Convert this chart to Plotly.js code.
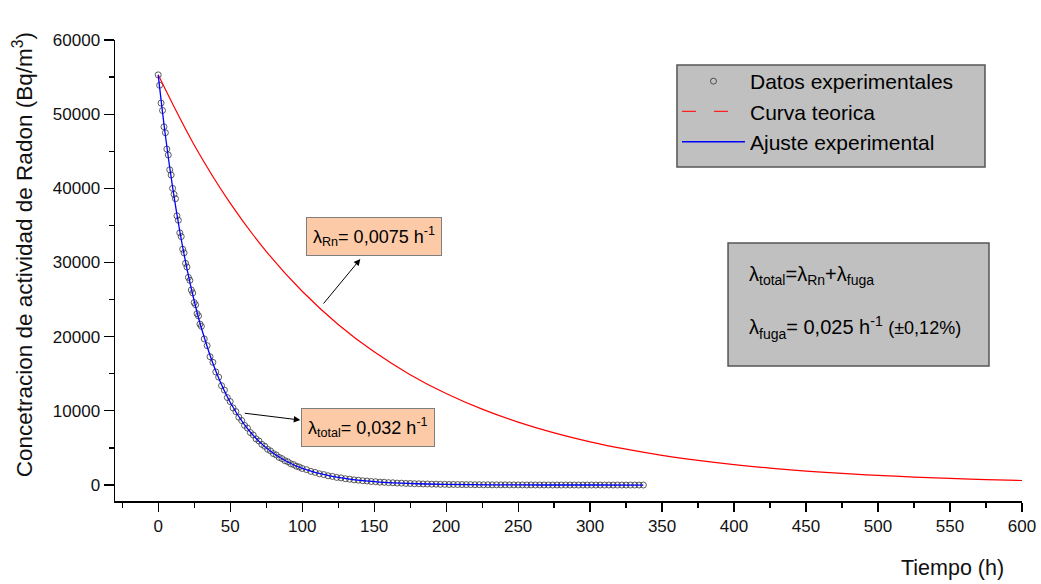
<!DOCTYPE html>
<html>
<head>
<meta charset="utf-8">
<script src="https://cdn.plot.ly/plotly-3.0.1.min.js"></script>
<style>html,body{margin:0;padding:0;background:#fff;}#chart{width:1041px;height:584px;}</style>
</head>
<body>
<div id="chart"></div>
<script>
// Experimental data (time in h, concentration in Bq/m3)
const tExp = [0,1,2,3,4,5,6,7,8,9,10,11,12,13,14,15,16,17,18,19,20,21,22,23,24,25,26,27,28,29,30,
  32,34,36,38,40,42,44,46,48,50,52,54,56,58,60,62,64,66,68,70,72,74,76,78,80,82,84,86,88,90,92,94,96,98,100,
  103,106,109,112,115,118,121,124,127,130,133,136,139,142,145,148,151,154,157,160,163,166,169,172,175,178,181,184,187,190,193,196,199,202,205,208,211,214,217,220,
  223,226,229,232,235,238,241,244,247,250,253,256,259,262,265,268,271,274,277,280,283,286,289,292,295,298,301,304,307,310,313,316,319,322,325,328,331,334,337];
const cExp = [55300,53900,51500,50500,48300,47500,45300,44500,42500,41800,40000,39200,38600,36300,35700,34000,33500,31800,31300,29900,29400,28000,27600,26300,25900,24600,24300,23100,22800,21700,21400,
  19700,18800,17300,16550,15250,14550,13400,12800,11800,11250,10400,9900,9150,8700,8050,7680,7080,6750,6220,5940,5480,5230,4820,4600,4240,4050,3730,3560,3280,3140,2880,2760,2540,2430,2230,
  2080,1840,1710,1520,1410,1250,1170,1030,965,850,795,700,660,580,545,475,450,390,372,325,310,265,255,220,212,180,175,150,145,122,120,100,98,80,82,66,68,55,57,45,
  50,36,42,30,34,24,29,20,25,16,21,13,18,10,15,8,13,6,11,5,10,4,9,3,8,2,7,2,6,1,5,1,4,3,1,2,0,2,1];

// Fitted curve (Ajuste experimental)
const tFit = [0,5,10,15,20,25,30,40,50,60,70,80,90,100,120,140,160,180,200,250,300,337];
const cFit = [55300,47123,40156,34218,29158,24848,21174,15376,11165,8108,5888,4276,3105,2255,1189,627,331,174,92,19,4,1];

// Theoretical curve (Curva teorica)
const tTeo = [0,25,50,75,100,125,150,175,200,225,250,275,300,325,350,375,400,425,450,475,500,525,550,575,600];
const cTeo = [55300,45845,38007,31510,26123,21656,17956,14881,12338,10231,8483,7029,5829,4833,4004,3323,2754,2284,1891,1571,1300,1078,896,741,614];

// Axis ticks
const xTicks = [0,50,100,150,200,250,300,350,400,450,500,550,600];
const yTicks = [0,10000,20000,30000,40000,50000,60000];

const FONT = 'Arial, "Liberation Sans", sans-serif';

const traces = [
  {x: tExp, y: cExp, type: 'scatter', mode: 'markers', name: 'Datos experimentales',
   marker: {symbol: 'circle-open', size: 6, color: '#333', line: {width: 0.8, color: '#333'}}},
  {x: tTeo, y: cTeo, type: 'scatter', mode: 'lines', name: 'Curva teorica', showlegend: false,
   line: {color: '#ff0000', width: 1.2, shape: 'spline'}},
  {x: [null], y: [null], type: 'scatter', mode: 'lines', name: 'Curva teorica',
   line: {color: '#ff2020', width: 1.3, dash: '14px,18px'}},
  {x: tFit, y: cFit, type: 'scatter', mode: 'lines', name: 'Ajuste experimental',
   line: {color: '#0000ff', width: 1.3, shape: 'spline'}}
];

const axCommon = {
  showgrid: false, zeroline: false, showline: true, linecolor: '#000', linewidth: 1.5,
  tickcolor: '#000', tickwidth: 1.2, tickformat: 'd', tickfont: {family: FONT, size: 17, color: '#111'}
};

const layout = {
  width: 1041, height: 584,
  margin: {l: 115, r: 19, t: 40, b: 83},
  paper_bgcolor: '#fff', plot_bgcolor: '#fff',
  font: {family: FONT},
  showlegend: true,
  legend: {x: 0.6196, y: 0.9545, xanchor: 'left', yanchor: 'top',
    bgcolor: 'rgba(0,0,0,0)', borderwidth: 0,
    font: {family: FONT, size: 21, color: '#000'}, itemwidth: 63, tracegroupgap: 0},
  xaxis: Object.assign({}, axCommon, {
    range: [-30, 600], tickvals: xTicks, ticks: 'outside', ticklen: 9,
    minor: {dtick: 25, tick0: 0, ticks: 'outside', ticklen: 5, tickcolor: '#000'}
  }),
  yaxis: Object.assign({}, axCommon, {
    range: [-2150, 60000], tickvals: yTicks, ticks: 'outside', ticklen: 10,
    minor: {dtick: 5000, tick0: 0, ticks: 'outside', ticklen: 5, tickcolor: '#000'}
  }),
  xaxis2: {overlaying: 'x', side: 'top', range: [-30, 600], showgrid: false, zeroline: false,
    showline: true, linecolor: '#000', linewidth: 1.5, ticks: 'inside', ticklen: 9, tickcolor: '#000',
    tickvals: xTicks, showticklabels: false,
    minor: {dtick: 25, tick0: 0, ticks: 'inside', ticklen: 5, tickcolor: '#000'}},
  yaxis2: {overlaying: 'y', side: 'right', range: [-2150, 60000], showgrid: false, zeroline: false,
    showline: true, linecolor: '#000', linewidth: 1.5, ticks: 'inside', ticklen: 10, tickcolor: '#000',
    tickvals: yTicks, showticklabels: false,
    minor: {dtick: 5000, tick0: 0, ticks: 'inside', ticklen: 5, tickcolor: '#000'}},
  shapes: [
    {type: 'rect', xref: 'paper', yref: 'paper', x0: 0.6196, x1: 0.9592, y0: 0.7245, y1: 0.9458,
     fillcolor: '#c0c0c0', line: {color: '#555', width: 1.5}, layer: 'above'},
    {type: 'rect', xref: 'paper', yref: 'paper', x0: 0.6759, x1: 0.9636, y0: 0.2928, y1: 0.5597,
     fillcolor: '#c0c0c0', line: {color: '#555', width: 1.5}, layer: 'above'}
  ],
  annotations: [
    {xref: 'paper', yref: 'paper', x: -0.102, y: 0.534, xanchor: 'center', yanchor: 'middle', textangle: -90, showarrow: false,
     text: 'Concetracion de actividad de Radon (Bq/m<sup>3</sup>)', font: {family: FONT, size: 22.5, color: '#111'}},
    {xref: 'paper', yref: 'paper', x: 0.9234, y: -0.145, xanchor: 'center', yanchor: 'middle', showarrow: false,
     text: 'Tiempo (h)', font: {family: FONT, size: 21.5, color: '#111'}},
    {xref: 'x', yref: 'y', x: 150, y: 33570, xanchor: 'center', yanchor: 'middle', showarrow: false,
     text: 'λ<sub>Rn</sub>= 0,0075 h<sup>-1</sup>', font: {family: FONT, size: 18, color: '#000'},
     bgcolor: '#fccaa6', bordercolor: '#808080', borderwidth: 1, borderpad: 6},
    {xref: 'x', yref: 'y', x: 146, y: 7750, xanchor: 'center', yanchor: 'middle', showarrow: false,
     text: 'λ<sub>total</sub>= 0,032 h<sup>-1</sup>', font: {family: FONT, size: 18, color: '#000'},
     bgcolor: '#fccaa6', bordercolor: '#808080', borderwidth: 1, borderpad: 6},
    {xref: 'x', yref: 'y', x: 140.4, y: 30470, axref: 'x', ayref: 'y', ax: 114, ay: 24268,
     text: '', showarrow: true, arrowhead: 2, arrowsize: 1.3, arrowwidth: 1, arrowcolor: '#000'},
    {xref: 'x', yref: 'y', x: 98.7, y: 8764, axref: 'x', ayref: 'y', ax: 59.1, ay: 9708,
     text: '', showarrow: true, arrowhead: 2, arrowsize: 1.3, arrowwidth: 1, arrowcolor: '#000'},
    {xref: 'paper', yref: 'paper', x: 0.7674, y: 0.4902, xanchor: 'center', yanchor: 'middle', showarrow: false,
     text: 'λ<sub>total</sub>=λ<sub>Rn</sub>+λ<sub>fuga</sub>', font: {family: FONT, size: 20, color: '#000'}},
    {xref: 'paper', yref: 'paper', x: 0.8159, y: 0.3753, xanchor: 'center', yanchor: 'middle', showarrow: false,
     text: 'λ<sub>fuga</sub>= 0,025 h<sup>-1</sup> <span style="font-size:18px">(±0,12%)</span>', font: {family: FONT, size: 20, color: '#000'}}
  ]
};

Plotly.newPlot('chart', traces, layout, {staticPlot: true});
</script>
</body>
</html>
